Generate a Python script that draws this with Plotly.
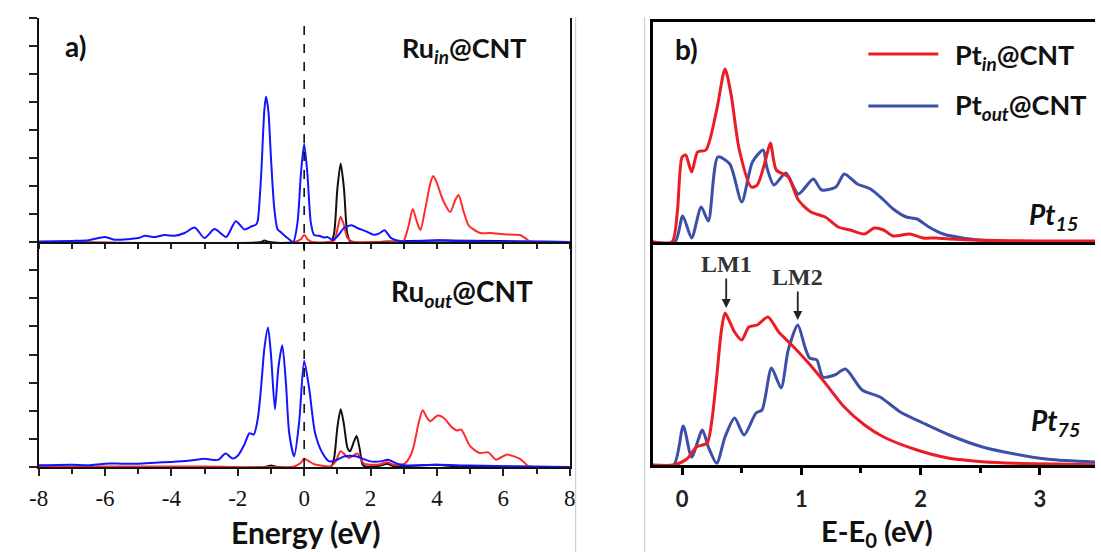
import plotly.graph_objects as go

# ---------------- Panel a) top : Ru_in@CNT ----------------
a_top_blue_x = [-8, -7, -6.5, -6.0, -5.7, -5.3, -5.0, -4.8, -4.5, -4.2, -3.9, -3.6, -3.3, -3.0, -2.7, -2.35,
                -2.06, -1.8, -1.6, -1.45, -1.4, -1.3, -1.2, -1.15, -1.08, -1.0, -0.9, -0.8, -0.7, -0.5, -0.33,
                -0.2, -0.1, 0.0, 0.1, 0.2, 0.3, 0.45, 0.6, 0.7, 0.85, 1.0, 1.2, 1.43, 1.6, 1.87, 2.1, 2.25,
                2.42, 2.62, 2.97, 3.5, 4.0, 4.6, 5.5, 8.0]
a_top_blue_y = [0.02, 0.04, 0.06, 0.18, 0.08, 0.10, 0.14, 0.22, 0.18, 0.25, 0.22, 0.32, 0.52, 0.14, 0.46, 0.18,
                0.74, 0.45, 0.55, 0.62, 0.75, 2.3, 4.7, 5.2, 4.7, 3.0, 1.2, 0.45, 0.35, 0.14, 0.0,
                0.7, 2.4, 3.5, 2.4, 0.7, 0.25, 0.22, 0.16, 0.18, 0.08, 0.2, 0.5, 0.6, 0.5, 0.38, 0.26, 0.3,
                0.42, 0.14, 0.02, 0.03, 0.06, 0.04, 0.02, 0.0]

a_top_black_x = [-8, -1.3, -1.2, -1.05, 0.8, 0.9, 1.0, 1.1, 1.2, 1.3, 1.4, 2.5, 4.2, 8]
a_top_black_y = [0, 0, 0.05, 0, 0, 0.3, 1.9, 2.8, 1.9, 0.3, 0, 0.02, 0.05, 0]

a_top_red_x = [-8, -0.3, -0.1, 0.0, 0.1, 0.25, 0.9, 1.0, 1.1, 1.2, 1.3, 1.45, 2.9, 3.0, 3.15, 3.27, 3.4, 3.5,
               3.65, 3.8, 3.89, 4.0, 4.18, 4.4, 4.55, 4.65, 4.8, 4.95, 5.1, 5.3, 5.6, 6.0, 6.3, 6.5, 6.65, 6.8, 7.0, 8.0]
a_top_red_y = [0, 0, 0.1, 0.26, 0.1, 0, 0.05, 0.45, 0.9, 0.6, 0.15, 0.02, 0.02, 0.05, 0.6, 1.18, 0.7, 0.43,
               1.2, 2.1, 2.36, 2.1, 1.5, 1.07, 1.5, 1.68, 1.1, 0.6, 0.45, 0.32, 0.32, 0.28, 0.26, 0.25, 0.15, 0.02, 0, 0]

# ---------------- Panel a) bottom : Ru_out@CNT ----------------
a_bot_blue_x = [-8, -7, -6.5, -6, -5.5, -5, -4.5, -4, -3.5, -3, -2.8, -2.58, -2.37, -2.15, -2.0, -1.8, -1.65,
                -1.52, -1.4, -1.3, -1.2, -1.09, -1.0, -0.88, -0.78, -0.66, -0.55, -0.45, -0.3, -0.15, 0.0, 0.15,
                0.33, 0.55, 0.76, 1.0, 1.22, 1.55, 2.0, 2.3, 2.53, 2.8, 3.0, 4.0, 5.0, 8.0]
a_bot_blue_y = [0.06, 0.08, 0.06, 0.12, 0.12, 0.12, 0.15, 0.18, 0.22, 0.29, 0.26, 0.26, 0.48, 0.3, 0.4, 0.8, 1.2,
                1.15, 1.7, 2.8, 4.2, 4.96, 4.0, 2.05, 3.5, 4.33, 3.0, 1.2, 0.38, 1.6, 3.77, 2.8,
                1.2, 0.5, 0.2, 0.26, 0.38, 0.38, 0.2, 0.2, 0.26, 0.12, 0.06, 0.08, 0.05, 0.0]

a_bot_black_x = [-8, -1.2, -1.0, -0.8, 0.8, 0.9, 1.0, 1.1, 1.2, 1.3, 1.38, 1.5, 1.58, 1.68, 1.78, 2.3, 2.5, 2.7, 4.0, 4.5, 8]
a_bot_black_y = [0, 0, 0.05, 0, 0, 0.3, 1.4, 2.05, 1.5, 0.7, 0.56, 0.9, 1.1, 0.6, 0.05, 0.05, 0.12, 0.03, 0.08, 0.03, 0]

a_bot_red_x = [-8, -7, -3, -0.3, -0.1, 0.0, 0.15, 0.3, 0.8, 0.95, 1.1, 1.35, 1.6, 1.8, 2.0, 2.3, 2.5, 2.7, 3.03,
               3.2, 3.3, 3.45, 3.57, 3.7, 3.8, 4.02, 4.2, 4.46, 4.6, 4.73, 5.0, 5.28, 5.55, 5.78, 6.1, 6.5, 6.77, 7.0, 8.0]
a_bot_red_y = [0, 0.02, 0.02, 0.02, 0.15, 0.29, 0.2, 0.1, 0.03, 0.2, 0.56, 0.32, 0.48, 0.12, 0.08, 0.1, 0.17, 0.08, 0.12,
               0.4, 0.74, 1.57, 2.02, 1.75, 1.63, 1.83, 1.75, 1.4, 1.3, 1.33, 0.74, 0.5, 0.52, 0.26, 0.44, 0.29, 0.02, 0, 0]

# ---------------- Panel b) top : Pt15 ----------------
b_top_red_x = [-0.25, -0.085, -0.04, 0.0, 0.03, 0.08, 0.13, 0.2, 0.29, 0.36, 0.41, 0.48, 0.58, 0.63, 0.7, 0.74,
               0.79, 0.89, 0.975, 1.08, 1.2, 1.31, 1.41, 1.53, 1.61, 1.69, 1.77, 1.91, 2.02, 2.13, 2.24, 2.52, 3.0, 3.47]
b_top_red_y = [0, 0, 30, 85, 87, 70, 90, 92, 132, 173, 148, 92, 55, 57, 82, 99,
               72, 65, 42, 30, 25, 15, 12, 8, 14, 12, 6, 8, 4, 4, 3, 1.7, 1, 1]

b_top_blue_x = [-0.25, -0.06, 0.005, 0.08, 0.16, 0.22, 0.3, 0.4, 0.5, 0.59, 0.68, 0.71, 0.77, 0.87, 0.975, 1.1,
                1.17, 1.29, 1.36, 1.47, 1.58, 1.69, 1.77, 1.88, 1.97, 2.07, 2.19, 2.35, 2.52, 2.65, 3.47]
b_top_blue_y = [0, 0, 26, 4, 35, 21, 85, 78, 40, 80, 92, 75, 57, 69, 48, 63,
                52, 55, 68, 58, 53, 42, 33, 25, 23, 15, 8, 4, 1.7, 0.5, 0]

# ---------------- Panel b) bottom : Pt75 ----------------
b_bot_red_x = [-0.25, -0.07, 0.04, 0.12, 0.21, 0.25, 0.29, 0.33, 0.36, 0.4, 0.44, 0.5, 0.56, 0.63, 0.72, 0.81,
               0.92, 1.06, 1.2, 1.36, 1.53, 1.69, 1.97, 2.24, 2.52, 2.79, 3.47]
b_bot_red_y = [0, 0, 6, 18, 22, 45, 88, 135, 152, 143, 133, 125, 138, 140, 148, 133,
               120, 102, 82, 58, 40, 28, 15, 6.7, 3.3, 1.7, 0.3]

b_bot_blue_x = [-0.25, -0.07, 0.01, 0.08, 0.17, 0.22, 0.29, 0.36, 0.44, 0.52, 0.62, 0.67, 0.75, 0.83, 0.89, 0.97,
                1.03, 1.07, 1.13, 1.18, 1.28, 1.37, 1.51, 1.66, 1.83, 2.02, 2.24, 2.52, 2.79, 3.07, 3.47]
b_bot_blue_y = [0, 0, 39, 8, 35, 18, 1.7, 28, 47, 30, 52, 55, 97, 77, 115, 140,
                118, 107, 105, 88, 90, 96, 75, 68, 53, 42, 30, 18, 11, 5.7, 3]

a_tick_vals = [-8, -6, -4, -2, 0, 2, 4, 6, 8]
b_tick_vals = [0, 1, 2, 3]

# ---------------- geometry ----------------
W, H = 1101, 552
def px(x):
    return x / W
def py(y):
    return 1 - y / H

A_BLUE, A_RED, A_BLACK = "#1414ff", "#ff2b2b", "#111111"
B_RED, B_BLUE = "#ec1c24", "#3d50a8"

fig = go.Figure()

def add(x, y, color, width, xa, ya):
    fig.add_trace(go.Scatter(x=x, y=y, mode="lines", line=dict(color=color, width=width, shape="spline", smoothing=0.7),
                             xaxis=xa, yaxis=ya, showlegend=False, hoverinfo="skip"))

add(a_top_black_x, a_top_black_y, A_BLACK, 2, "x", "y")
add(a_top_red_x, a_top_red_y, A_RED, 2, "x", "y")
add(a_top_blue_x, a_top_blue_y, A_BLUE, 2, "x", "y")
add(a_bot_black_x, a_bot_black_y, A_BLACK, 2, "x2", "y2")
add(a_bot_red_x, a_bot_red_y, A_RED, 2, "x2", "y2")
add(a_bot_blue_x, a_bot_blue_y, A_BLUE, 2, "x2", "y2")
add(b_top_blue_x, b_top_blue_y, B_BLUE, 3, "x3", "y3")
add(b_top_red_x, b_top_red_y, B_RED, 3, "x3", "y3")
add(b_bot_blue_x, b_bot_blue_y, B_BLUE, 3, "x4", "y4")
add(b_bot_red_x, b_bot_red_y, B_RED, 3, "x4", "y4")

a_xdom = [px(29), px(568)]
b_xdom = [px(652), 1.0]
b_xrange = [-0.248, -0.248 + 449 / 121.0]

SERIF = "Liberation Serif, Times New Roman, serif"

fig.update_layout(
    width=W, height=H, margin=dict(l=0, r=0, t=0, b=0),
    paper_bgcolor="white", plot_bgcolor="white",
    xaxis=dict(domain=a_xdom, anchor="y", range=[-8, 8], showgrid=False, zeroline=False,
               showline=True, linecolor="#111", linewidth=2, ticks="outside", ticklen=5, tickwidth=1.5,
               tickcolor="#222", dtick=1, tick0=0, showticklabels=False),
    xaxis5=dict(overlaying="x", anchor="y", side="top", range=[-8, 8], showgrid=False, zeroline=False,
                showline=True, linecolor="#2a2ad0", linewidth=2, ticks="inside", ticklen=5, tickwidth=1.5,
                tickcolor="#333", dtick=1, tick0=0, showticklabels=False),
    yaxis=dict(domain=[py(242), py(18)], anchor="x", range=[0, 8], showgrid=False, zeroline=False,
               showline=True, linecolor="#111", linewidth=2, mirror=True, ticks="outside", ticklen=8,
               tickwidth=1.5, tickcolor="#222", dtick=1, showticklabels=False),
    xaxis2=dict(domain=a_xdom, anchor="y2", range=[-8, 8], showgrid=False, zeroline=False,
                showline=True, linecolor="#111", linewidth=2, ticks="outside", ticklen=7, tickwidth=1.5,
                tickcolor="#222", tickvals=a_tick_vals, ticktext=[str(v) for v in a_tick_vals],
                minor=dict(dtick=1, tick0=0, ticks="outside", ticklen=5, tickwidth=1.5, tickcolor="#222"),
                tickfont=dict(family=SERIF, size=23, color="#111"), ticklabelstandoff=2),
    yaxis2=dict(domain=[py(467), py(242)], anchor="x2", range=[0, 8], showgrid=False, zeroline=False,
                showline=True, linecolor="#111", linewidth=2, mirror=True, ticks="outside", ticklen=8,
                tickwidth=1.5, tickcolor="#222", dtick=1, showticklabels=False),
    xaxis3=dict(domain=b_xdom, anchor="y3", range=b_xrange, showgrid=False, zeroline=False,
                showline=True, linecolor="#000", linewidth=3, mirror=True, ticks="", showticklabels=False),
    yaxis3=dict(domain=[py(242), py(22)], anchor="x3", range=[0, 220], showgrid=False, zeroline=False,
                showline=True, linecolor="#000", linewidth=3, ticks="", showticklabels=False),
    xaxis4=dict(domain=b_xdom, anchor="y4", range=b_xrange, showgrid=False, zeroline=False,
                showline=True, linecolor="#000", linewidth=3, ticks="outside", ticklen=7, tickwidth=3,
                tickcolor="#000", tickvals=b_tick_vals, ticktext=[str(v) for v in b_tick_vals],
                minor=dict(dtick=0.5, tick0=0, ticks="outside", ticklen=5, tickwidth=3, tickcolor="#000"),
                tickfont=dict(family="Lato", size=22, color="#222", weight="bold"), ticklabelstandoff=6),
    yaxis4=dict(domain=[py(465), py(242)], anchor="x4", range=[0, 223], showgrid=False, zeroline=False,
                showline=True, linecolor="#000", linewidth=3, ticks="", showticklabels=False),
)

shapes = [
    dict(type="line", xref="x", yref="paper", x0=0, x1=0, y0=py(467), y1=py(18),
         line=dict(color="#000", width=1.5, dash="dash")),
    dict(type="line", xref="paper", yref="paper", x0=px(574), x1=px(574), y0=0, y1=py(17),
         line=dict(color="#c8c8c8", width=1)),
    dict(type="line", xref="paper", yref="paper", x0=px(644), x1=px(644), y0=0, y1=py(17),
         line=dict(color="#c8c8c8", width=1)),
    dict(type="line", xref="paper", yref="paper", x0=px(871), x1=px(942), y0=py(54), y1=py(54),
         line=dict(color=B_RED, width=3)),
    dict(type="line", xref="paper", yref="paper", x0=px(871), x1=px(942), y0=py(106), y1=py(106),
         line=dict(color=B_BLUE, width=3)),
]
fig.update_layout(shapes=shapes)

SANS = "Lato"
def txt(text, x, y, size, xanchor="center", family=SANS, color="#111"):
    return dict(text=text, x=px(x), y=py(y), xref="paper", yref="paper", showarrow=False,
                xanchor=xanchor, yanchor="middle", font=dict(family=family, size=size, color=color))

annotations = [
    txt("<b>a)</b>", 66, 46, 28),
    txt("<b>Ru<sub><i>in</i></sub>@CNT</b>", 527, 50, 27, xanchor="right"),
    txt("<b>Ru<sub><i>out</i></sub>@CNT</b>", 533, 293, 28, xanchor="right"),
    txt("<b>Energy (eV)</b>", 300, 532, 30),
    txt("<b>b)</b>", 686, 49, 28),
    txt("<b>Pt<sub><i>in</i></sub>@CNT</b>", 957, 56, 27, xanchor="left"),
    txt("<b>Pt<sub><i>out</i></sub>@CNT</b>", 957, 107, 27, xanchor="left"),
    txt("<b><i>Pt<sub>15</sub></i></b>", 1086, 216, 28, xanchor="right"),
    txt("<b><i>Pt<sub>75</sub></i></b>", 1088, 422, 28, xanchor="right"),
    txt("<b>E-E<sub>0</sub> (eV)</b>", 880, 532, 29),
    dict(text="<b>LM1</b>", x=0.37, y=157, xref="x4", yref="y4", showarrow=True, arrowhead=2, arrowsize=1,
         arrowwidth=1.8, arrowcolor="#222", ax=0, ay=-44, font=dict(family=SERIF, size=24, color="#333")),
    dict(text="<b>LM2</b>", x=0.97, y=145, xref="x4", yref="y4", showarrow=True, arrowhead=2, arrowsize=1,
         arrowwidth=1.8, arrowcolor="#222", ax=0, ay=-43, font=dict(family=SERIF, size=24, color="#333")),
]
fig.update_layout(annotations=annotations)

fig.write_html("out.html", config={"displayModeBar": False},
               post_script="document.body.style.margin='0';document.body.style.overflow='hidden';")
